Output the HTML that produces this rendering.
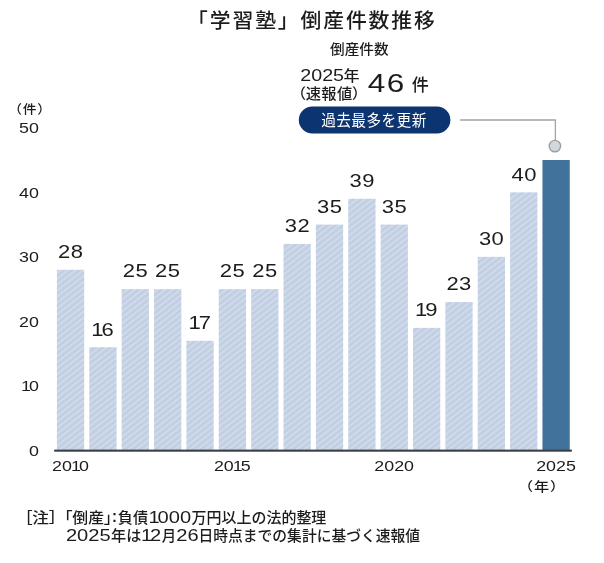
<!DOCTYPE html>
<html lang="ja"><head><meta charset="utf-8"><title>「学習塾」倒産件数推移</title>
<style>
html,body{margin:0;padding:0;background:#fff;}
body{width:604px;height:563px;overflow:hidden;}
svg{display:block;}
text{font-family:"Liberation Sans","Noto Sans CJK JP",sans-serif;}
.n{font-family:"Liberation Sans",sans-serif;}
.p{font-feature-settings:'palt';}
</style></head><body>
<svg width="604" height="563" viewBox="0 0 604 563">
<defs>
<pattern id="h" width="4.7" height="4.7" patternUnits="userSpaceOnUse" patternTransform="rotate(-38)">
<rect width="4.7" height="4.7" fill="#c2cfe2"/><rect width="4.7" height="2" fill="#cfdbeb"/>
</pattern>
</defs>
<rect width="604" height="563" fill="#ffffff"/>
<rect x="56.90" y="269.76" width="27.30" height="180.74" fill="url(#h)"/>
<rect x="89.27" y="347.22" width="27.30" height="103.28" fill="url(#h)"/>
<rect x="121.64" y="289.12" width="27.30" height="161.38" fill="url(#h)"/>
<rect x="154.01" y="289.12" width="27.30" height="161.38" fill="url(#h)"/>
<rect x="186.38" y="340.76" width="27.30" height="109.74" fill="url(#h)"/>
<rect x="218.75" y="289.12" width="27.30" height="161.38" fill="url(#h)"/>
<rect x="251.12" y="289.12" width="27.30" height="161.38" fill="url(#h)"/>
<rect x="283.49" y="243.94" width="27.30" height="206.56" fill="url(#h)"/>
<rect x="315.86" y="224.57" width="27.30" height="225.93" fill="url(#h)"/>
<rect x="348.23" y="198.75" width="27.30" height="251.75" fill="url(#h)"/>
<rect x="380.60" y="224.57" width="27.30" height="225.93" fill="url(#h)"/>
<rect x="412.97" y="327.86" width="27.30" height="122.64" fill="url(#h)"/>
<rect x="445.34" y="302.03" width="27.30" height="148.47" fill="url(#h)"/>
<rect x="477.71" y="256.85" width="27.30" height="193.65" fill="url(#h)"/>
<rect x="510.08" y="192.30" width="27.30" height="258.20" fill="url(#h)"/>
<rect x="542.45" y="160.02" width="27.30" height="290.48" fill="#41729c"/>
<rect x="54.2" y="449.6" width="517.7" height="2.1" fill="#3b3f46"/>
<rect x="298.8" y="106.5" width="151.6" height="27" rx="13.5" fill="#0c3471"/>
<path d="M460 120H555.4V140" fill="none" stroke="#a0a5a9" stroke-width="1.3"/>
<circle cx="554.9" cy="146.1" r="5.7" fill="#d2d7db" stroke="#9ba0a4" stroke-width="1.4"/>
<text transform="translate(187.07 28.37) scale(1.026 1)" font-size="20.30" fill="#1c1c1c" font-weight="500" letter-spacing="1.83">「学習塾」倒産件数推移</text>
<text transform="translate(330.01 54.35) scale(1.052 1)" font-size="13.94" fill="#1c1c1c" font-weight="500">倒産件数</text>
<text transform="translate(300.32 81.43) scale(1.136 1)" font-size="17.32" fill="#1c1c1c" class="n">2025</text>
<text transform="translate(343.56 80.98) scale(1.096 1)" font-size="14.68" fill="#1c1c1c" font-weight="500">年</text>
<text transform="translate(297.84 98.65) scale(1.053 1)" font-size="14.50" fill="#1c1c1c" class="p" font-weight="500" letter-spacing="0.29">（速報値）</text>
<text transform="translate(367.67 91.95) scale(1.258 1)" font-size="25.07" fill="#1c1c1c" class="n" letter-spacing="1.25">46</text>
<text transform="translate(411.79 91.42) scale(0.975 1)" font-size="17.53" fill="#1c1c1c" font-weight="500">件</text>
<text transform="translate(321.21 126.19) scale(0.937 1)" font-size="15.64" fill="#ffffff" letter-spacing="0.47">過去最多を更新</text>
<text transform="translate(14.58 114.16) scale(1.108 1)" font-size="12.40" fill="#1c1c1c" class="p" font-weight="500" letter-spacing="1.12">（件）</text>
<text transform="translate(525.07 490.74) scale(1.200 1)" font-size="12.60" fill="#1c1c1c" class="p" font-weight="500" letter-spacing="1.13">（年）</text>
<text transform="translate(19.09 133.00) scale(1.185 1)" font-size="15.07" fill="#1c1c1c" class="n">50</text>
<text transform="translate(28.91 455.75) scale(1.185 1)" font-size="15.07" fill="#1c1c1c" class="n">0</text>
<text transform="translate(21.94 391.20) scale(1.185 1)" font-size="15.07" fill="#1c1c1c" class="n" dx="-0.75 -1.66">10</text>
<text transform="translate(19.09 326.65) scale(1.185 1)" font-size="15.07" fill="#1c1c1c" class="n">20</text>
<text transform="translate(19.09 262.10) scale(1.185 1)" font-size="15.07" fill="#1c1c1c" class="n">30</text>
<text transform="translate(19.09 197.55) scale(1.185 1)" font-size="15.07" fill="#1c1c1c" class="n">40</text>
<text transform="translate(51.97 471.45) scale(1.185 1)" font-size="15.07" fill="#1c1c1c" class="n" dx="0.00 0.00 -0.75 -1.66">2010</text>
<text transform="translate(213.91 471.45) scale(1.185 1)" font-size="15.07" fill="#1c1c1c" class="n" dx="0.00 0.00 -0.75 -1.66">2015</text>
<text transform="translate(374.33 471.45) scale(1.185 1)" font-size="15.07" fill="#1c1c1c" class="n">2020</text>
<text transform="translate(536.18 471.45) scale(1.185 1)" font-size="15.07" fill="#1c1c1c" class="n">2025</text>
<text transform="translate(58.00 258.08) scale(1.212 1)" font-size="18.17" fill="#1c1c1c" class="n" letter-spacing="0.36">28</text>
<text transform="translate(92.35 335.54) scale(1.212 1)" font-size="18.17" fill="#1c1c1c" class="n" letter-spacing="0.36" dx="-0.91 -2.00">16</text>
<text transform="translate(122.74 277.44) scale(1.212 1)" font-size="18.17" fill="#1c1c1c" class="n" letter-spacing="0.36">25</text>
<text transform="translate(155.11 277.44) scale(1.212 1)" font-size="18.17" fill="#1c1c1c" class="n" letter-spacing="0.36">25</text>
<text transform="translate(189.57 329.26) scale(1.212 1)" font-size="18.17" fill="#1c1c1c" class="n" letter-spacing="0.36" dx="-0.91 -2.00">17</text>
<text transform="translate(219.85 277.44) scale(1.212 1)" font-size="18.17" fill="#1c1c1c" class="n" letter-spacing="0.36">25</text>
<text transform="translate(252.22 277.44) scale(1.212 1)" font-size="18.17" fill="#1c1c1c" class="n" letter-spacing="0.36">25</text>
<text transform="translate(284.81 232.26) scale(1.212 1)" font-size="18.17" fill="#1c1c1c" class="n" letter-spacing="0.36">32</text>
<text transform="translate(317.07 212.89) scale(1.212 1)" font-size="18.17" fill="#1c1c1c" class="n" letter-spacing="0.36">35</text>
<text transform="translate(349.55 187.07) scale(1.212 1)" font-size="18.17" fill="#1c1c1c" class="n" letter-spacing="0.36">39</text>
<text transform="translate(381.81 212.89) scale(1.212 1)" font-size="18.17" fill="#1c1c1c" class="n" letter-spacing="0.36">35</text>
<text transform="translate(416.05 316.17) scale(1.212 1)" font-size="18.17" fill="#1c1c1c" class="n" letter-spacing="0.36" dx="-0.91 -2.00">19</text>
<text transform="translate(446.44 290.35) scale(1.212 1)" font-size="18.17" fill="#1c1c1c" class="n" letter-spacing="0.36">23</text>
<text transform="translate(478.92 245.17) scale(1.212 1)" font-size="18.17" fill="#1c1c1c" class="n" letter-spacing="0.36">30</text>
<text transform="translate(511.51 180.62) scale(1.212 1)" font-size="18.17" fill="#1c1c1c" class="n" letter-spacing="0.36">40</text>
<text transform="translate(23.96 522.56) scale(1.121 1)" font-size="14.89" fill="#1c1c1c" class="p" font-weight="500">［注］</text>
<text transform="translate(64.41 522.84) scale(1.048 1)" font-size="15.11" fill="#1c1c1c" class="p" font-weight="500">「倒産」</text>
<text transform="translate(112.10 522.10) scale(0.933 1)" font-size="16.08" fill="#1c1c1c" class="n" font-weight="700">:</text>
<text transform="translate(117.84 522.85) scale(1.009 1)" font-size="15.00" fill="#1c1c1c" font-weight="500">負債</text>
<text transform="translate(65.89 540.84) scale(1.254 1)" font-size="16.06" fill="#1c1c1c" class="n">2025</text>
<text transform="translate(149.61 523.14) scale(1.254 1)" font-size="16.06" fill="#1c1c1c" class="n" dx="-0.80 -1.77 0.00 0.00">1000</text>
<text transform="translate(191.55 522.85) scale(0.999 1)" font-size="15.00" fill="#1c1c1c" font-weight="500">万円以上の法的整理</text>
<text transform="translate(111.09 541.02) scale(0.991 1)" font-size="15.32" fill="#1c1c1c" font-weight="500">年は</text>
<text transform="translate(142.07 541.00) scale(1.254 1)" font-size="16.06" fill="#1c1c1c" class="n" dx="-0.80 -1.77">12</text>
<text transform="translate(161.87 540.56) scale(0.962 1)" font-size="14.94" fill="#1c1c1c" font-weight="500">月</text>
<text transform="translate(176.27 540.84) scale(1.254 1)" font-size="16.06" fill="#1c1c1c" class="n">26</text>
<text transform="translate(198.49 540.94) scale(0.978 1)" font-size="15.11" fill="#1c1c1c" font-weight="500">日時点までの集計に基づく速報値</text>
</svg></body></html>
